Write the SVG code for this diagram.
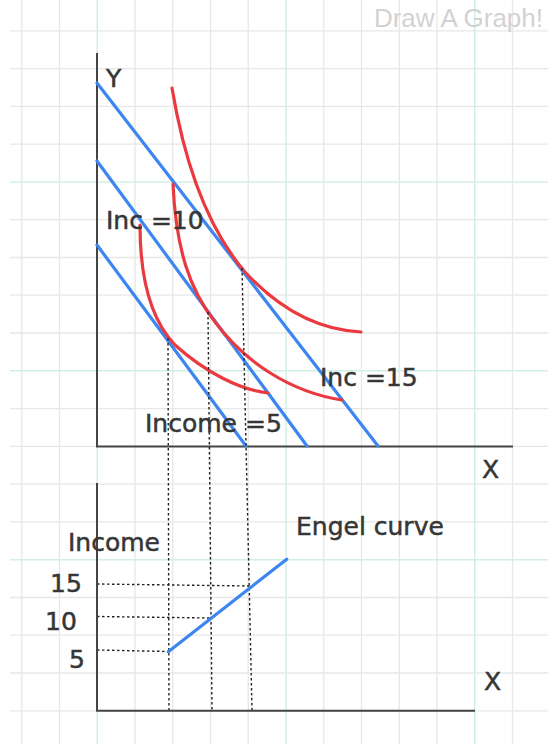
<svg xmlns="http://www.w3.org/2000/svg" width="548" height="744" viewBox="0 0 548 744">
<style>
.g{stroke:#e7e7e7;stroke-width:1.3;fill:none}
.t{stroke:#d2efe6;stroke-width:1.5;fill:none}
.ax{stroke:#444;stroke-width:2;fill:none}
.bl{stroke:#3b86f0;stroke-width:3.2;fill:none;stroke-linecap:round}
.rd{stroke:#eb3a3f;stroke-width:3.2;fill:none;stroke-linecap:round}
.dt{stroke:#222;stroke-width:1.4;stroke-dasharray:2.5 2.5;fill:none}
.lb{font-family:"DejaVu Sans",sans-serif;fill:#363636;stroke:#363636;stroke-width:0.5;font-size:25px}
</style>
<rect width="548" height="744" fill="#fff"/>
<g id="grid">
<path class="g" d="M21.75 0V744M59.5 0V744M135 0V744M172.75 0V744M210.5 0V744M248.25 0V744M323.75 0V744M361.5 0V744M399.25 0V744M437 0V744M512.5 0V744"/>
<path class="g" d="M10 30.8H548M10 68.6H548M10 106.4H548M10 144.1H548M10 219.7H548M10 257.5H548M10 295.2H548M10 333H548M10 408.6H548M10 446.3H548M10 484.1H548M10 521.9H548M10 597.5H548M10 635.2H548M10 673H548M10 710.8H548"/>
<path class="t" d="M97.25 0V744M286 0V744M474.75 0V744"/>
<path class="t" d="M10 181.9H548M10 370.8H548M10 559.7H548"/>
</g>
<text x="543" y="27" text-anchor="end" font-family="Liberation Sans, sans-serif" font-size="26" fill="#d2d2d2">Draw A Graph!</text>
<g id="top-axes">
<path class="ax" d="M97 53V446.5H513"/>
<text class="lb" x="106" y="87" font-size="26">Y</text>
<text class="lb" x="482" y="478" font-size="23">X</text>
</g>
<g id="budget-lines">
<path class="bl" d="M97 83L378 446"/>
<path class="bl" d="M97 161L307 446"/>
<path class="bl" d="M97 245L246 446"/>
</g>
<g id="indifference-curves">
<path class="rd" d="M172 88C184 160 205 225 245 272C280 310 320 330 361 332"/>
<path class="rd" d="M173 184C176 250 190 290 215 322C245 362 290 392 342 400"/>
<path class="rd" d="M140 225C140 285 153 322 175 345C205 372 240 390 268 393"/>
</g>
<g id="connectors">
<path class="dt" d="M168 338L169 710"/>
<path class="dt" d="M208 312L212 710"/>
<path class="dt" d="M242 268L252 710"/>
<path class="dt" d="M97 584L250 586"/>
<path class="dt" d="M97 616.5L210 618"/>
<path class="dt" d="M97 650L168 651.5"/>
</g>
<g id="labels-top">
<text class="lb" x="106" y="229">Inc =10</text>
<text class="lb" x="145" y="432">Income =5</text>
<text class="lb" x="320" y="386">Inc =15</text>
</g>
<g id="bottom-axes">
<path class="ax" d="M97 483V710.8H475"/>
<text class="lb" x="484" y="690" font-size="24">X</text>
<text class="lb" x="68" y="551">Income</text>
<text class="lb" x="50" y="592" font-size="23">15</text>
<text class="lb" x="45" y="630" font-size="23">10</text>
<text class="lb" x="69" y="668" font-size="23">5</text>
</g>
<g id="engel-curve">
<path class="bl" d="M168.3 651.7L286.7 559.3"/>
<text class="lb" x="296" y="535">Engel curve</text>
</g>
</svg>
